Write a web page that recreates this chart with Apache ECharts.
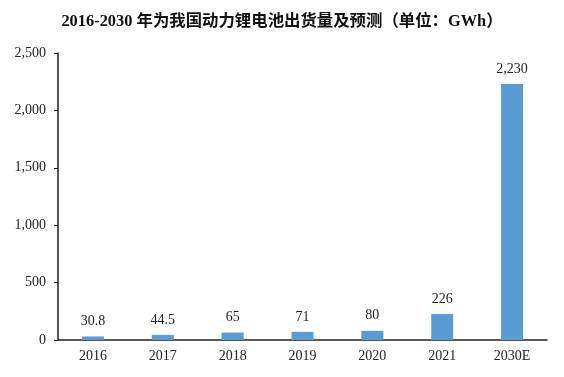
<!DOCTYPE html>
<html>
<head>
<meta charset="utf-8">
<script src="https://cdn.jsdelivr.net/npm/echarts@6/dist/echarts.min.js"></script>
<style>
  html, body { margin: 0; padding: 0; background: #fff; }
  #chart { width: 564px; height: 377px; }
</style>
</head>
<body>
<div id="chart"></div>
<script>
var years = ['2016', '2017', '2018', '2019', '2020', '2021', '2030E'];
var shipments = [30.8, 44.5, 65, 71, 80, 226, 2230];
var yTicks = [0, 500, 1000, 1500, 2000, 2500];

var serif = '"Liberation Serif", "Times New Roman", "Noto Sans CJK SC", serif';
var chart = echarts.init(document.getElementById('chart'));

var option = {
    animation: false,
    title: {
        text: '2016-2030 年为我国动力锂电池出货量及预测（单位：GWh）',
        left: 'center',
        top: 9,
        textStyle: {
            fontFamily: serif,
            fontSize: 16.4,
            fontWeight: 'bold',
            color: '#111'
        }
    },
    grid: {
        left: 58,
        right: 17,
        top: 53,
        bottom: 37
    },
    xAxis: {
        type: 'category',
        data: years,
        axisLine: { lineStyle: { color: '#222', width: 1.5 } },
        axisTick: { show: false },
        axisLabel: {
            margin: 9,
            fontFamily: serif,
            fontSize: 14,
            color: '#222'
        }
    },
    yAxis: {
        type: 'value',
        min: yTicks[0],
        max: yTicks[yTicks.length - 1],
        interval: 500,
        splitLine: { show: false },
        axisLine: { show: true, lineStyle: { color: '#222', width: 1.5 } },
        axisTick: { show: true, length: 4, lineStyle: { color: '#222' } },
        axisLabel: {
            margin: 12,
            fontFamily: serif,
            fontSize: 14,
            color: '#222',
            formatter: function (v) { return v.toLocaleString('en-US'); }
        }
    },
    series: [
        {
            type: 'bar',
            data: shipments,
            barWidth: 22,
            itemStyle: { color: '#5B9BD5' },
            label: {
                show: true,
                position: 'top',
                distance: 8,
                fontFamily: serif,
                fontSize: 14,
                color: '#222',
                formatter: function (p) { return p.value.toLocaleString('en-US'); }
            }
        }
    ]
};

chart.setOption(option);
</script>
</body>
</html>
